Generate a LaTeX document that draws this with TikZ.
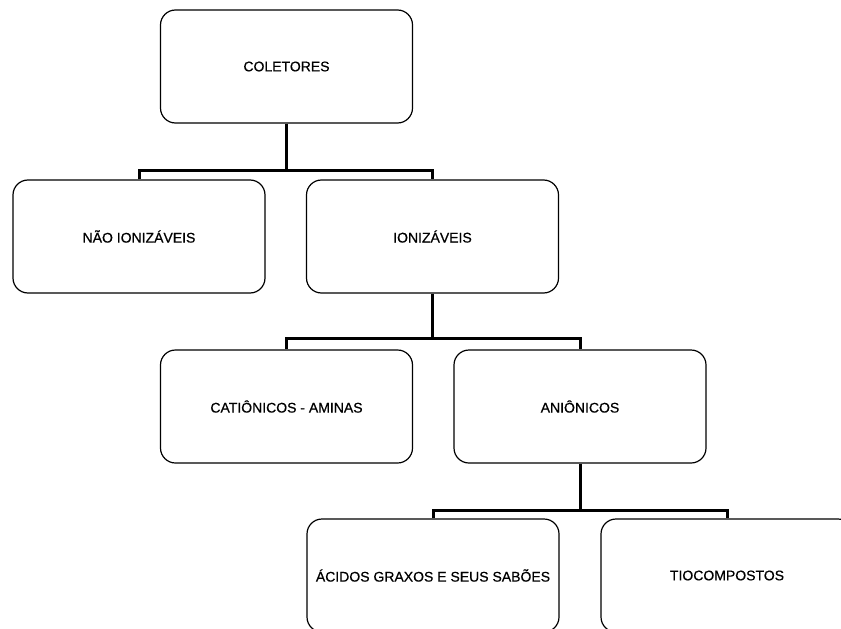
\documentclass[tikz,border=0pt]{standalone}
\usepackage{fontspec}
\setmainfont{Liberation Sans}[FakeBold=0.6]
\begin{document}
\begin{tikzpicture}[x=1pt,y=-1pt,
  box/.style={draw=black, line width=1.2pt, rounded corners=15pt,
    minimum width=252pt, minimum height=113pt, inner sep=0pt,
    font=\fontsize{14}{16}\selectfont, align=center},
  conn/.style={draw=black, line width=3pt, line join=miter}]
\useasboundingbox (0,0) rectangle (841,629);
\clip (0,0) rectangle (841,629);
\node[box] (col) at (286.5,66.5) {COLETORES};
\node[box] (nao) at (139,236.5) {NÃO IONIZÁVEIS};
\node[box] (ion) at (432.5,236.5) {IONIZÁVEIS};
\node[box] (cat) at (286.5,406.5) {CATIÔNICOS - AMINAS};
\node[box] (ani) at (580,406.5) {ANIÔNICOS};
\node[box] (aci) at (433,575.5) {ÁCIDOS GRAXOS E SEUS SABÕES};
\node[box] (tio) at (727,575.5) {TIOCOMPOSTOS};
\coordinate (j1) at (286.5,170);
\coordinate (j2) at (432.5,338);
\coordinate (j3) at (580,510);
\draw[conn] (col.south) -- (j1);
\draw[conn] (nao.north) |- (j1) -| (ion.north);
\draw[conn] (ion.south) -- (j2);
\draw[conn] (cat.north) |- (j2) -| (ani.north);
\draw[conn] (ani.south) -- (j3);
\draw[conn] (aci.north) |- (j3) -| (tio.north);
\end{tikzpicture}
\end{document}
